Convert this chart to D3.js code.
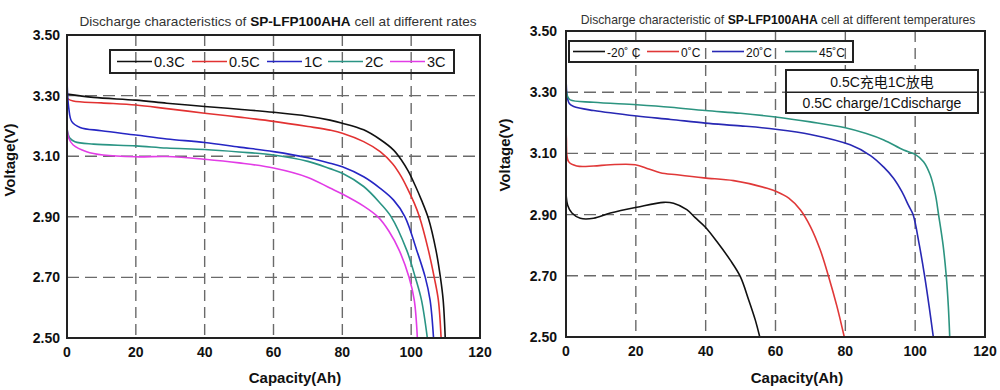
<!DOCTYPE html>
<html>
<head>
<meta charset="utf-8">
<script src="https://cdn.jsdelivr.net/npm/d3@7"></script>
<style>
  body { margin: 0; background: #fff; }
  svg { display: block; font-family: "Liberation Sans", Arial, sans-serif; }
  .tick-label { font-size: 14px; font-weight: bold; fill: #111; }
  .axis-title { font-size: 15px; font-weight: bold; fill: #111; }
  .chart-title { fill: #333; }
  .legend-text { fill: #111; }
</style>
</head>
<body>
<div class="svg-container"></div>
<script>
// ---- data: left chart, discharge at different rates [capacity Ah, voltage V]
const rateNames = ['0.3C', '0.5C', '1C', '2C', '3C'];
const rateColors = ['#111111', '#e23232', '#2626c4', '#2a9484', '#e23ce6'];
const rate03C = [[0,3.305],[7.7,3.294],[20,3.285],[29,3.275],[40,3.264],[50,3.255],[60,3.245],[70,3.232],[76.4,3.219],[80,3.209],[86.2,3.187],[91,3.155],[94.9,3.12],[97.3,3.085],[99.2,3.05],[101.1,3.005],[103,2.955],[105,2.895],[107.2,2.79],[108.5,2.70],[109.3,2.625],[109.9,2.50]];
const rate05C = [[0,3.291],[1.8,3.282],[10,3.276],[20,3.269],[29,3.257],[40,3.242],[50,3.229],[60,3.215],[70,3.198],[76.4,3.186],[80,3.176],[86.2,3.148],[91,3.115],[94.6,3.075],[97,3.035],[98.9,2.994],[100.9,2.945],[102.4,2.90],[105,2.79],[106.7,2.70],[107.9,2.625],[108.7,2.50]];
const rate1C = [[0,3.35],[0.5,3.26],[1.4,3.214],[3.8,3.195],[10,3.184],[20,3.17],[29,3.157],[40,3.145],[50,3.13],[60,3.115],[70,3.095],[76.4,3.077],[80,3.065],[86.2,3.032],[91,2.994],[94.9,2.955],[98.2,2.90],[101.6,2.79],[104.1,2.70],[105.5,2.625],[106.5,2.50]];
const rate2C = [[0,3.19],[0.8,3.16],[2.3,3.148],[7.7,3.14],[20,3.134],[29,3.127],[40,3.122],[50,3.114],[60,3.104],[70,3.083],[76.4,3.059],[80,3.044],[86.2,3.0],[91,2.945],[94.2,2.90],[98.7,2.79],[101.2,2.70],[103,2.625],[104.7,2.50]];
const rate3C = [[0,3.20],[0.5,3.16],[1.8,3.137],[5.7,3.115],[10.5,3.104],[20,3.098],[29,3.099],[40,3.09],[50,3.078],[60,3.061],[70,3.03],[76.4,2.995],[80,2.975],[86.2,2.935],[90.5,2.898],[93.5,2.853],[96.5,2.79],[99.4,2.70],[100.9,2.625],[101.8,2.50]];

// ---- data: right chart, discharge at different temperatures
const tempNames = ['-20\u02DA C', '0\u02DAC', '20\u02DAC', '45\u02DAC'];
const tempColors = ['#111111', '#e03838', '#2828b4', '#2c9480'];
const tempMinus20 = [[0,2.97],[0.5,2.93],[1.7,2.905],[4.1,2.888],[7.9,2.888],[12.7,2.905],[20.3,2.924],[28,2.94],[30.8,2.937],[34.6,2.916],[37,2.89],[40,2.858],[43.2,2.812],[47,2.752],[49.9,2.698],[52.3,2.622],[54.2,2.556],[55.5,2.50]];
const temp0 = [[0,3.31],[0.1,3.15],[0.75,3.073],[3.1,3.059],[7.9,3.059],[12.7,3.063],[19.8,3.063],[23.7,3.049],[27,3.037],[31.8,3.03],[39.5,3.02],[48,3.011],[57.6,2.986],[60.4,2.975],[63.8,2.954],[67.1,2.916],[70,2.861],[72.8,2.785],[75.2,2.698],[77.6,2.60],[79.7,2.50]];
const temp20 = [[0,3.41],[0.3,3.29],[1,3.262],[2.2,3.253],[7.9,3.24],[20.3,3.222],[30,3.211],[39.9,3.199],[50,3.19],[60,3.179],[70,3.162],[81.4,3.128],[87.2,3.093],[91,3.055],[93.8,3.019],[96.2,2.975],[98.1,2.93],[99.4,2.90],[101.2,2.80],[102.7,2.70],[104,2.60],[105.2,2.50]];
const temp45 = [[0,3.31],[0.5,3.285],[1.2,3.275],[7.9,3.267],[20.3,3.259],[30,3.251],[39.9,3.24],[50,3.231],[60,3.219],[70,3.203],[80,3.184],[86,3.165],[91,3.144],[96.7,3.111],[100,3.097],[102.4,3.073],[104.3,3.03],[105.8,2.965],[106.7,2.90],[108,2.80],[108.9,2.70],[109.5,2.60],[109.9,2.50]];

// ---- axes
const xTicks = [0, 20, 40, 60, 80, 100, 120];
const yTicks = [2.50, 2.70, 2.90, 3.10, 3.30, 3.50];

const width = 1000;
const height = 390;

const svg = d3.select('.svg-container')
  .append('svg')
  .attr('width', width)
  .attr('height', height);

const renderChart = (cfg, idx) => {
  const x = d3.scaleLinear().domain([0, 120]).range([cfg.left, cfg.right]);
  const y = d3.scaleLinear().domain([2.5, 3.5]).range([cfg.bottom, cfg.top]);
  const g = svg.append('g');

  // grid lines (dashed)
  g.append('g').selectAll('line')
    .data(xTicks.slice(1, -1))
    .join('line')
    .attr('x1', d => x(d)).attr('x2', d => x(d))
    .attr('y1', y(3.5)).attr('y2', y(2.5))
    .attr('stroke', '#6a6a6a').attr('stroke-width', 1.4)
    .attr('stroke-dasharray', '11,6');
  g.append('g').selectAll('line')
    .data(yTicks.slice(1, -1))
    .join('line')
    .attr('x1', x(0)).attr('x2', x(120))
    .attr('y1', d => y(d)).attr('y2', d => y(d))
    .attr('stroke', '#6a6a6a').attr('stroke-width', 1.4)
    .attr('stroke-dasharray', '12,6');

  // curves
  const clipId = 'clip' + idx;
  g.append('clipPath').attr('id', clipId)
    .append('rect')
    .attr('x', x(0)).attr('y', y(3.5))
    .attr('width', x(120) - x(0)).attr('height', y(2.5) - y(3.5));

  const line = d3.line()
    .x(d => x(d[0]))
    .y(d => y(d[1]))
    .curve(d3.curveCatmullRom.alpha(0.5));

  g.append('g').attr('clip-path', `url(#${clipId})`)
    .selectAll('path')
    .data(cfg.series)
    .join('path')
    .attr('d', d => line(d))
    .attr('fill', 'none')
    .attr('stroke', (d, i) => cfg.colors[i])
    .attr('stroke-width', 1.6);

  // frame
  g.append('rect')
    .attr('x', x(0)).attr('y', y(3.5))
    .attr('width', x(120) - x(0)).attr('height', y(2.5) - y(3.5))
    .attr('fill', 'none').attr('stroke', '#222').attr('stroke-width', 2);

  // tick labels
  g.append('g').selectAll('text')
    .data(xTicks)
    .join('text')
    .attr('class', 'tick-label')
    .attr('x', d => x(d)).attr('y', cfg.bottom + 19)
    .attr('text-anchor', 'middle')
    .text(d => d);
  g.append('g').selectAll('text')
    .data(yTicks)
    .join('text')
    .attr('class', 'tick-label')
    .attr('x', cfg.left - cfg.yLabelGap).attr('y', d => y(d) + 5)
    .attr('text-anchor', 'end')
    .text(d => d.toFixed(2));

  // axis titles
  g.append('text')
    .attr('class', 'axis-title')
    .attr('x', cfg.xTitleX).attr('y', 383)
    .attr('text-anchor', 'middle')
    .text('Capacity(Ah)');
  g.append('text')
    .attr('class', 'axis-title')
    .attr('transform', `translate(${cfg.yTitleX},${cfg.yTitleY}) rotate(-90)`)
    .attr('text-anchor', 'middle')
    .text('Voltage(V)');

  // chart title
  const title = g.append('text')
    .attr('class', 'chart-title')
    .attr('x', cfg.titleX).attr('y', cfg.titleY)
    .attr('text-anchor', 'middle')
    .style('font-size', cfg.titleSize + 'px');
  title.append('tspan').text(cfg.title[0]);
  title.append('tspan').attr('font-weight', 'bold').attr('fill', '#111').text(cfg.title[1]);
  title.append('tspan').text(cfg.title[2]);

  // legend
  const lg = cfg.legend;
  g.append('rect')
    .attr('x', lg.x).attr('y', lg.y)
    .attr('width', lg.w).attr('height', lg.h)
    .attr('fill', 'none').attr('stroke', '#222').attr('stroke-width', 2);
  const item = g.append('g').selectAll('g')
    .data(cfg.names)
    .join('g')
    .attr('transform', (d, i) => `translate(${lg.items[i]},${lg.y + lg.h / 2})`);
  item.append('line')
    .attr('x1', 0).attr('x2', lg.lineLen)
    .attr('stroke', (d, i) => cfg.colors[i]).attr('stroke-width', 1.6);
  item.append('text')
    .attr('class', 'legend-text')
    .attr('x', lg.lineLen + 2).attr('y', 5)
    .style('font-size', lg.fontSize + 'px')
    .text(d => d);

  return { x, y, g };
};

renderChart({
  left: 67, right: 480, top: 35, bottom: 338,
  yLabelGap: 7,
  series: [rate03C, rate05C, rate1C, rate2C, rate3C],
  colors: rateColors,
  names: rateNames,
  xTitleX: 295, yTitleX: 15, yTitleY: 160,
  titleX: 278, titleY: 26, titleSize: 13.6,
  title: ['Discharge characteristics of ', 'SP-LFP100AHA', ' cell at different rates'],
  legend: { x: 110, y: 50, w: 344, h: 23, lineLen: 35, fontSize: 14.5, items: [117, 192, 267, 328, 390] }
}, 0);

const right = renderChart({
  left: 566, right: 985, top: 31, bottom: 337,
  yLabelGap: 9,
  series: [tempMinus20, temp0, temp20, temp45],
  colors: tempColors,
  names: tempNames,
  xTitleX: 797, yTitleX: 510, yTitleY: 155,
  titleX: 778, titleY: 24, titleSize: 12.2,
  title: ['Discharge characteristic of ', 'SP-LFP100AHA', ' cell at different temperatures'],
  legend: { x: 569, y: 41, w: 284, h: 21, lineLen: 32, fontSize: 12, items: [573, 647, 712, 785] }
}, 1);

// annotation box on the right chart
const note = right.g.append('g');
note.append('rect')
  .attr('x', 786).attr('y', 70).attr('width', 192).attr('height', 43)
  .attr('fill', '#fff').attr('stroke', '#222').attr('stroke-width', 2);
note.append('line')
  .attr('x1', 786).attr('x2', 978)
  .attr('y1', right.y(3.3)).attr('y2', right.y(3.3))
  .attr('stroke', '#222').attr('stroke-width', 1.4);
note.append('text')
  .attr('x', 882).attr('y', 87)
  .attr('text-anchor', 'middle')
  .style('font-size', '14px').style('fill', '#111')
  .style('font-family', '"Liberation Sans", "Noto Sans CJK SC", sans-serif')
  .text('0.5C充电1C放电');
note.append('text')
  .attr('x', 882).attr('y', 108)
  .attr('text-anchor', 'middle')
  .style('font-size', '14px').style('fill', '#111')
  .text('0.5C charge/1Cdischarge');
</script>
</body>
</html>
